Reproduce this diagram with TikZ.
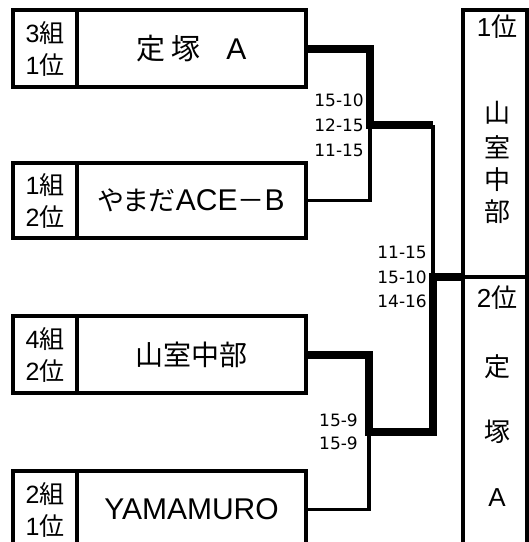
\documentclass[tikz,border=0pt]{standalone}
\usepackage{fontspec}
\setmainfont{Liberation Sans}
\newfontfamily\jp{Noto Sans CJK JP}
\newfontfamily\jpp[RawFeature=+palt]{Noto Sans CJK JP}
\newfontfamily\scfont{DejaVu Sans}
\begin{document}
\begin{tikzpicture}[x=1pt,y=-1pt,
  cell/.style={draw, line width=3.3pt, inner sep=0pt, outer sep=0pt, minimum width=#1, align=center},
  grp/.style={cell=64pt, minimum height=77pt, font=\fontsize{25}{32}\selectfont},
  team/.style={cell=229pt, minimum height=77pt, font=\fontsize{30}{34}\selectfont},
  col/.style={cell=64pt},
  coltext/.style={inner sep=0pt, font=\fontsize{26}{26}\selectfont},
  score/.style={inner sep=0pt, anchor=east, align=right},
  thick line/.style={line width=8pt},
  thin line/.style={line width=3.3pt}]
\useasboundingbox (0,0) rectangle (529,542);
\begin{scope}
\clip (0,0) rectangle (529,542);
% left boxes
\node[grp] (g1) at (45,48.5) {3{\jp 組}\\1{\jp 位}};
\node[team] (t1) at (191.5,48.5) {{\jp\fontsize{29}{34}\selectfont 定\hspace{6pt}塚}\hspace{26pt}A};
\node[grp, minimum height=75pt] (g2) at (45,200.5) {1{\jp 組}\\2{\jp 位}};
\node[team, minimum height=75pt] (t2) at (191.5,200.5) {{\jpp\fontsize{27}{34}\selectfont やまだ}ACE{\jp\fontsize{27}{34}\selectfont －}B};
\node[grp] (g3) at (45,354.5) {4{\jp 組}\\2{\jp 位}};
\node[team] (t3) at (191.5,354.5) {{\jp\fontsize{28}{34}\selectfont 山室中部}};
\node[grp] (g4) at (45,509.5) {2{\jp 組}\\1{\jp 位}};
\node[team] (t4) at (191.5,509.5) {YAMAMURO};
% right column
\node[col, minimum height=267pt] (w1) at (495,143.5) {};
\node[col, minimum height=290pt] (w2) at (495,422) {};
\node[coltext] (r1) at (497,27) {1{\jp 位}};
\node[coltext] (r2) at (497,113) {\jp 山};
\node[coltext] (r3) at (497,147) {\jp 室};
\node[coltext] (r4) at (497,180) {\jp 中};
\node[coltext] (r5) at (497,212) {\jp 部};
\node[coltext] (s1) at (497,298) {2{\jp 位}};
\node[coltext] (s2) at (497,367) {\jp 定};
\node[coltext] (s3) at (497,432) {\jp 塚};
\node[coltext] (s4) at (497,498) {A};
% junctions
\coordinate (m1) at (370,125);
\coordinate (m2) at (369,432);
\coordinate (f) at (433,277);
% connectors
\draw[thick line] (t1.east) -| (m1) -- (m1 -| f);
\draw[thin line] (t2.east) -| (m1);
\draw[thin line] (m1 -| f) -- (f);
\draw[thick line] (t3.east) -| (m2) -| (f) -- (w1.south west);
\draw[thin line] (t4.east) -| (m2);
% scores
\node[score, font=\scfont\fontsize{17}{25}\selectfont] (sc1) at (364,125) {15-10\\12-15\\11-15};
\node[score, font=\scfont\fontsize{17}{24.5}\selectfont] (sc2) at (427,277) {11-15\\15-10\\14-16};
\node[score, font=\scfont\fontsize{17}{23}\selectfont] (sc3) at (358,431.5) {15-9\\15-9};
\end{scope}
\end{tikzpicture}
\end{document}
